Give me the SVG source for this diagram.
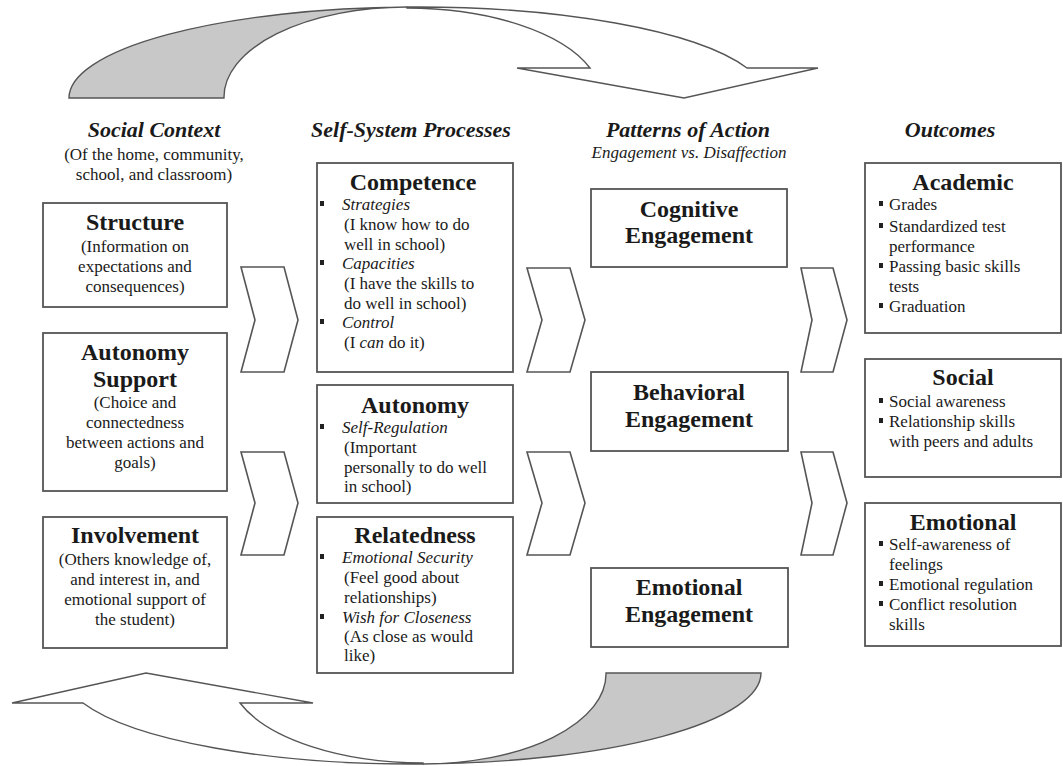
<svg xmlns="http://www.w3.org/2000/svg" width="1063" height="766" viewBox="0 0 1063 766">
<style>
text{font-family:"Liberation Serif","Times New Roman",serif;fill:#1a1a1a}
.hd{font-size:22px;font-weight:bold;font-style:italic;text-anchor:middle}
.sub{font-size:17px;text-anchor:middle}
.subi{font-size:17px;font-style:italic;text-anchor:middle}
.ttl{font-size:24px;font-weight:bold;text-anchor:middle}
.bd{font-size:17px}
.bdc{font-size:17px;text-anchor:middle}
.it{font-style:italic}
.box{fill:#fff;stroke:#555;stroke-width:1.8}
.chev{fill:#fff;stroke:#555;stroke-width:1.6;stroke-linejoin:miter}
.arw{fill:#fff;stroke:#555;stroke-width:1.4}
.arg{fill:#c8c8c8;stroke:#555;stroke-width:1.4}
.bul{fill:#222}
</style>
<rect width="1063" height="766" fill="#fff"/>

<g id="connectors">
  <g id="top-arrow">
    <path class="arw" d="M407,7 A349,91 0 0 1 747,68 L818,68 L684,98 L517,68 L590,68 A195,90 0 0 0 407,8 Z"/>
    <path class="arg" d="M69,98 A349,91 0 0 1 407,7 A183,90 0 0 0 224,98 Z"/>
  </g>
  <g id="bottom-arrow" transform="rotate(180 415 385.5)">
    <path class="arw" d="M407,7 A349,91 0 0 1 747,68 L818,68 L684,98 L517,68 L590,68 A195,90 0 0 0 407,8 Z"/>
    <path class="arg" d="M69,98 A349,91 0 0 1 407,7 A183,90 0 0 0 224,98 Z"/>
  </g>
  <polygon class="chev" points="241,267 284,267 298,320 284,372 241,372 255,320"/>
  <polygon class="chev" points="241,452 284,452 298,503 284,555 241,555 255,503"/>
  <polygon class="chev" points="527,268 570,268 585,320 570,372 527,372 542,320"/>
  <polygon class="chev" points="527,452 570,452 585,503 570,555 527,555 542,503"/>
  <polygon class="chev" points="801,268 833,268 847,320 833,372 801,372 812,320"/>
  <polygon class="chev" points="801,452 833,452 847,503 833,555 801,555 812,503"/>
</g>

<g id="headers">
  <text class="hd" x="154" y="137">Social Context</text>
  <text class="sub" x="154" y="160">(Of the home, community,</text>
  <text class="sub" x="154" y="180">school, and classroom)</text>
  <text class="hd" x="411" y="137">Self-System Processes</text>
  <text class="hd" x="688" y="137">Patterns of Action</text>
  <text class="subi" x="689" y="158">Engagement vs. Disaffection</text>
  <text class="hd" x="950" y="137">Outcomes</text>
</g>

<g id="structure">
  <rect class="box" x="43" y="203" width="184" height="104"/>
  <text class="ttl" x="135" y="230">Structure</text>
  <text class="bdc" x="135" y="252">(Information on</text>
  <text class="bdc" x="135" y="272">expectations and</text>
  <text class="bdc" x="135" y="292">consequences)</text>
</g>

<g id="autonomy-support">
  <rect class="box" x="43" y="333" width="184" height="158"/>
  <text class="ttl" x="135" y="360">Autonomy</text>
  <text class="ttl" x="135" y="387">Support</text>
  <text class="bdc" x="135" y="408">(Choice and</text>
  <text class="bdc" x="135" y="428">connectedness</text>
  <text class="bdc" x="135" y="448">between actions and</text>
  <text class="bdc" x="135" y="468">goals)</text>
</g>

<g id="involvement">
  <rect class="box" x="43" y="517" width="184" height="131"/>
  <text class="ttl" x="135" y="543">Involvement</text>
  <text class="bdc" x="135" y="565">(Others knowledge of,</text>
  <text class="bdc" x="135" y="585">and interest in, and</text>
  <text class="bdc" x="135" y="605">emotional support of</text>
  <text class="bdc" x="135" y="625">the student)</text>
</g>

<g id="competence">
  <rect class="box" x="317" y="163" width="196" height="209"/>
  <text class="ttl" x="413" y="190">Competence</text>
  <rect class="bul" x="320" y="201" width="4" height="5"/>
  <text class="bd it" x="342" y="210">Strategies</text>
  <text class="bd" x="344" y="230">(I know how to do</text>
  <text class="bd" x="344" y="250">well in school)</text>
  <rect class="bul" x="320" y="260" width="4" height="5"/>
  <text class="bd it" x="342" y="269">Capacities</text>
  <text class="bd" x="344" y="289">(I have the skills to</text>
  <text class="bd" x="344" y="309">do well in school)</text>
  <rect class="bul" x="320" y="319" width="4" height="5"/>
  <text class="bd it" x="342" y="328">Control</text>
  <text class="bd" x="344" y="348">(I <tspan class="it">can</tspan> do it)</text>
</g>

<g id="autonomy">
  <rect class="box" x="317" y="385" width="196" height="118"/>
  <text class="ttl" x="415" y="413">Autonomy</text>
  <rect class="bul" x="320" y="424" width="4" height="5"/>
  <text class="bd it" x="342" y="433">Self-Regulation</text>
  <text class="bd" x="344" y="453">(Important</text>
  <text class="bd" x="344" y="473">personally to do well</text>
  <text class="bd" x="344" y="492">in school)</text>
</g>

<g id="relatedness">
  <rect class="box" x="317" y="517" width="196" height="156"/>
  <text class="ttl" x="415" y="543">Relatedness</text>
  <rect class="bul" x="320" y="554" width="4" height="5"/>
  <text class="bd it" x="342" y="563">Emotional Security</text>
  <text class="bd" x="344" y="583">(Feel good about</text>
  <text class="bd" x="344" y="603">relationships)</text>
  <rect class="bul" x="320" y="614" width="4" height="5"/>
  <text class="bd it" x="342" y="623">Wish for Closeness</text>
  <text class="bd" x="344" y="642">(As close as would</text>
  <text class="bd" x="344" y="661">like)</text>
</g>

<g id="cognitive-engagement">
  <rect class="box" x="591" y="189" width="196" height="78"/>
  <text class="ttl" x="689" y="217">Cognitive</text>
  <text class="ttl" x="689" y="243">Engagement</text>
</g>

<g id="behavioral-engagement">
  <rect class="box" x="591" y="372" width="197" height="79"/>
  <text class="ttl" x="689" y="400">Behavioral</text>
  <text class="ttl" x="689" y="427">Engagement</text>
</g>

<g id="emotional-engagement">
  <rect class="box" x="591" y="568" width="197" height="79"/>
  <text class="ttl" x="689" y="595">Emotional</text>
  <text class="ttl" x="689" y="622">Engagement</text>
</g>

<g id="academic">
  <rect class="box" x="865" y="163" width="196" height="170"/>
  <text class="ttl" x="963" y="190">Academic</text>
  <rect class="bul" x="879" y="201" width="4" height="5"/>
  <text class="bd" x="889" y="210">Grades</text>
  <rect class="bul" x="879" y="223" width="4" height="5"/>
  <text class="bd" x="889" y="232">Standardized test</text>
  <text class="bd" x="889" y="252">performance</text>
  <rect class="bul" x="879" y="263" width="4" height="5"/>
  <text class="bd" x="889" y="272">Passing basic skills</text>
  <text class="bd" x="889" y="292">tests</text>
  <rect class="bul" x="879" y="303" width="4" height="5"/>
  <text class="bd" x="889" y="312">Graduation</text>
</g>

<g id="social">
  <rect class="box" x="865" y="359" width="196" height="118"/>
  <text class="ttl" x="963" y="385">Social</text>
  <rect class="bul" x="879" y="398" width="4" height="5"/>
  <text class="bd" x="889" y="407">Social awareness</text>
  <rect class="bul" x="879" y="418" width="4" height="5"/>
  <text class="bd" x="889" y="427">Relationship skills</text>
  <text class="bd" x="889" y="447">with peers and adults</text>
</g>

<g id="emotional">
  <rect class="box" x="865" y="503" width="196" height="143"/>
  <text class="ttl" x="963" y="530">Emotional</text>
  <rect class="bul" x="879" y="541" width="4" height="5"/>
  <text class="bd" x="889" y="550">Self-awareness of</text>
  <text class="bd" x="889" y="570">feelings</text>
  <rect class="bul" x="879" y="581" width="4" height="5"/>
  <text class="bd" x="889" y="590">Emotional regulation</text>
  <rect class="bul" x="879" y="601" width="4" height="5"/>
  <text class="bd" x="889" y="610">Conflict resolution</text>
  <text class="bd" x="889" y="630">skills</text>
</g>
</svg>
